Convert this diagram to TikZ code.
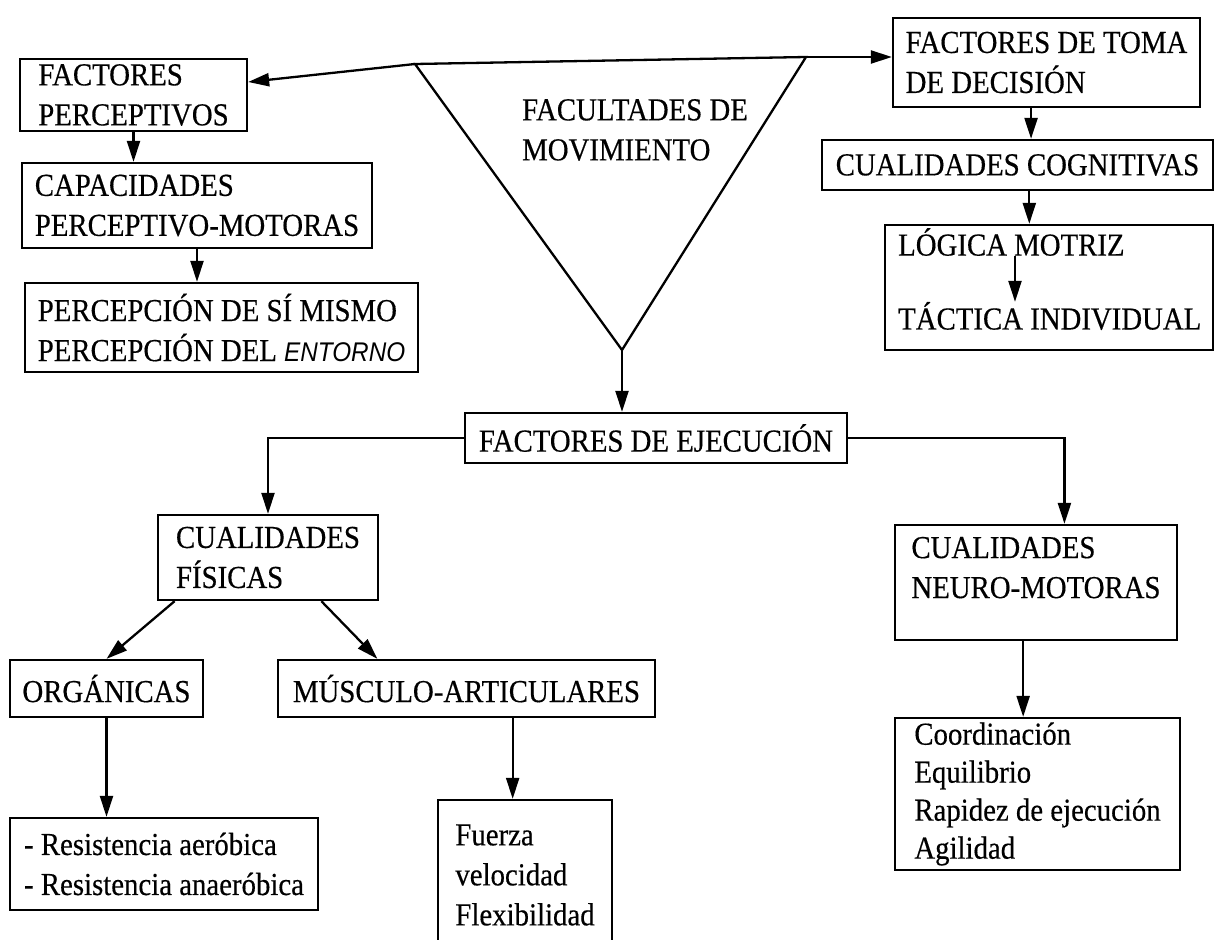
\documentclass[tikz,border=0pt]{standalone}
\usepackage{fontspec}
\setmainfont{Liberation Serif}[FakeStretch=0.9,FakeBold=0.4]
\newfontfamily\handfont{Liberation Sans}[FakeStretch=0.9]
\usetikzlibrary{arrows.meta,calc}
\begin{document}
\begin{tikzpicture}[x=1pt,y=-1pt,
  box/.style={draw, line width=2.3pt, align=left, inner sep=0pt, font=\fontsize{32}{40}\selectfont},
  txt/.style={align=left, inner sep=0pt, font=\fontsize{32}{40}\selectfont},
  arr/.style={line width=2.3pt, -{Triangle[length=21pt,width=13pt]}},
  ln/.style={line width=2.3pt, line join=miter}]
\useasboundingbox (0,0) rectangle (1217,939);
\clip (0,0) rectangle (1217,939);
% triangle
\coordinate (tl) at (415,64);
\coordinate (tr) at (806,57);
\coordinate (bt) at (622,350);
\draw[ln] (tl) -- (tr) -- (bt) -- cycle;
\node[txt, anchor=west] (fm) at (522,130) {FACULTADES DE\\MOVIMIENTO};
% left column
\node[box, minimum width=227pt, minimum height=72pt] (fp) at (133.5,95) {FACTORES\\PERCEPTIVOS};
\node[box, minimum width=350pt, minimum height=85pt] (cp) at (197,205.5) {CAPACIDADES\\PERCEPTIVO-MOTORAS};
\node[box, minimum width=393pt, minimum height=89pt] (ps) at (221.5,327.5) {PERCEPCIÓN DE SÍ MISMO\\PERCEPCIÓN DEL {\handfont\itshape\fontsize{27}{40}\selectfont ENTORNO}};
% right column
\node[box, minimum width=307pt, minimum height=89pt] (ftd) at (1046.5,62.5) {FACTORES DE TOMA\\DE DECISIÓN};
\node[box, minimum width=391pt, minimum height=50pt] (cc) at (1017.5,165) {CUALIDADES COGNITIVAS};
\node[box, minimum width=328pt, minimum height=125pt] (lm) at (1049,287.5) {};
\node[txt, anchor=west] (lmt) at (898,242) {LÓGICA MOTRIZ};
\node[txt, anchor=west] (tit) at (898,316) {TÁCTICA INDIVIDUAL};
\coordinate (lmx) at (1015,0);
% middle
\node[box, minimum width=382pt, minimum height=50pt] (fe) at (656,438) {FACTORES DE EJECUCIÓN};
\node[box, minimum width=220pt, minimum height=85pt] (cf) at (268,557.5) {CUALIDADES\\FÍSICAS};
\node[box, minimum width=193pt, minimum height=57pt] (org) at (106.5,688.5) {ORGÁNICAS};
\node[box, minimum width=377pt, minimum height=57pt] (mus) at (466.5,688.5) {MÚSCULO-ARTICULARES};
\node[box, minimum width=308pt, minimum height=92pt] (res) at (164,864) {- Resistencia aeróbica\\- Resistencia anaeróbica};
\node[box, minimum width=174pt, minimum height=150pt] (fue) at (525,875) {Fuerza\\velocidad\\Flexibilidad};
\node[box, minimum width=282pt, minimum height=115pt] (cn) at (1036,582.5) {CUALIDADES\\NEURO-MOTORAS\\[-10pt]\mbox{}};
\node[box, minimum width=285pt, minimum height=152pt, font=\fontsize{32}{38}\selectfont] (coo) at (1037.5,794) {Coordinación\\Equilibrio\\Rapidez de ejecución\\Agilidad};
% connectors
\draw[arr] (tl) -- ($(fp.east)+(0,-13)$);
\draw[arr] (tr) -- (tr -| ftd.west);
\draw[arr] (bt) -- (bt |- fe.north);
\draw[arr] (fp.south) -- (fp.south |- cp.north);
\draw[arr] (cp.south) -- (cp.south |- ps.north);
\coordinate (a1) at ($(ftd.south west)!0.45!(ftd.south east)$);
\draw[arr] (a1) -- (a1 |- cc.north);
\coordinate (a2) at ($(cc.south west)!0.53!(cc.south east)$);
\draw[arr] (a2) -- (a2 |- lm.north);
\draw[arr] (lmt.south -| lmx) -- (tit.north -| lmx);
\draw[arr] (fe.west) -| (cf.north);
\draw[arr] (fe.east) -| ($(cn.north west)!0.6!(cn.north east)$);
\draw[arr] ($(cf.south west)!0.08!(cf.south east)$) -- (org.north);
\draw[arr] ($(cf.south west)!0.74!(cf.south east)$) -- ($(mus.north west)!0.265!(mus.north east)$);
\draw[arr] (org.south) -- (org.south |- res.north);
\coordinate (a3) at ($(fue.north west)!0.43!(fue.north east)$);
\draw[arr] (a3 |- mus.south) -- (a3);
\coordinate (a4) at ($(coo.north west)!0.45!(coo.north east)$);
\draw[arr] (a4 |- cn.south) -- (a4);
\end{tikzpicture}
\end{document}
